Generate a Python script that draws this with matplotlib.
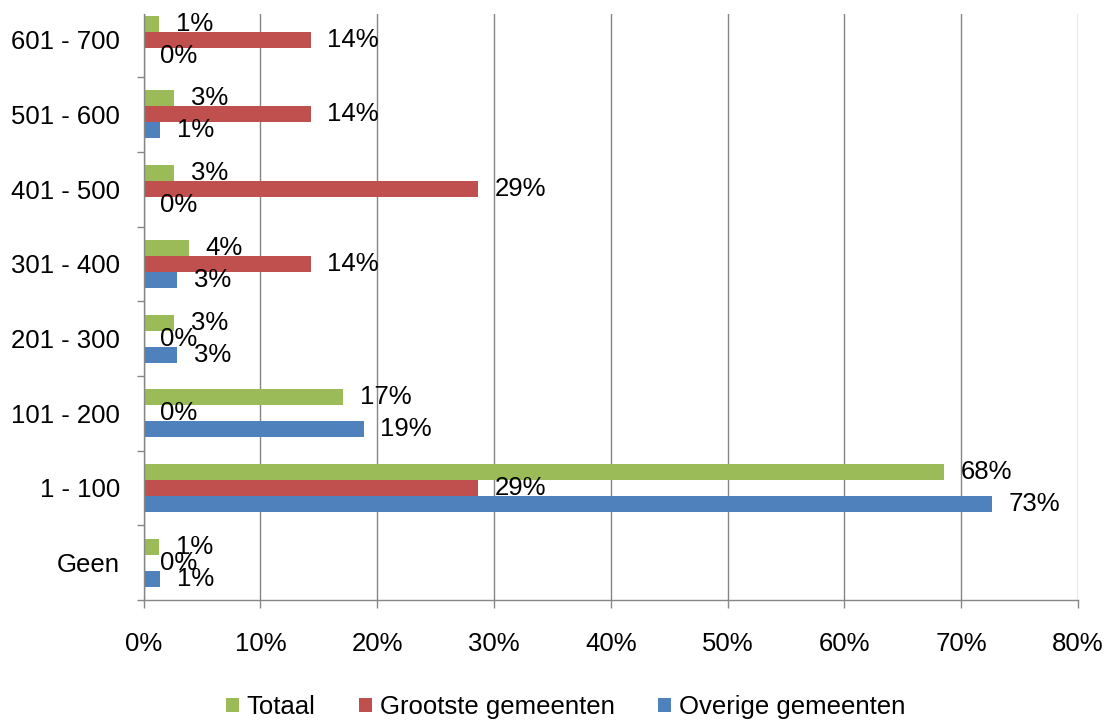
import numpy as np
import matplotlib
matplotlib.use('Agg')
import matplotlib.pyplot as plt
from matplotlib.patches import Patch

categories = ['Geen', '1 - 100', '101 - 200', '201 - 300', '301 - 400', '401 - 500', '501 - 600', '601 - 700']
totaal = [1.35, 68.5, 17.1, 2.6, 3.9, 2.6, 2.6, 1.35]
grootste = [0.0, 28.6, 0.0, 0.0, 14.3, 28.6, 14.3, 14.3]
overige = [1.45, 72.6, 18.85, 2.9, 2.9, 0.0, 1.45, 0.0]
series_names = ['Totaal', 'Grootste gemeenten', 'Overige gemeenten']
colors = ['#9BBB59', '#C0504D', '#4F81BD']
x_ticks = [0, 10, 20, 30, 40, 50, 60, 70, 80]

plt.rcParams['font.family'] = ['Liberation Sans', 'DejaVu Sans']
fs = 18.5

fig = plt.figure(figsize=(11.1, 7.22), dpi=100)
# plot area: x 143.5..1078 px, y 14..600 px
ax = fig.add_axes([0.1293, 0.169, 0.9712 - 0.1293, 0.9806 - 0.169])

y = np.arange(len(categories))
h = 0.214
offsets = [h, 0, -h]
for vals, off, col in zip([totaal, grootste, overige], offsets, colors):
    ax.barh(y + off, vals, height=h, color=col, zorder=3)
    for yi, v in zip(y, vals):
        ax.annotate(f'{v:.0f}%', (v, yi + off), xytext=(12, 0), textcoords='offset points',
                    ha='left', va='center', fontsize=fs, color='black', zorder=4)

ax.set_xlim(0, 80)
ax.set_ylim(-0.5, 7.345)
ax.set_xticks(x_ticks)
ax.set_xticklabels([f'{t}%' for t in x_ticks], fontsize=fs)
ax.set_yticks(y)
ax.set_yticklabels(categories, fontsize=fs)
ax.set_yticks(np.arange(-0.5, 7.0, 1.0), minor=True)
ax.tick_params(axis='y', which='major', length=0, pad=17)
ax.tick_params(axis='y', which='minor', length=5, color='#868686', width=1)
ax.tick_params(axis='x', length=6, color='#868686', width=1, pad=17)

ax.grid(axis='x', color='#868686', linewidth=1, zorder=0)
for s in ['top', 'right']:
    ax.spines[s].set_visible(False)
for s in ['left', 'bottom']:
    ax.spines[s].set_color('#868686')
    ax.spines[s].set_linewidth(1)
    ax.spines[s].set_zorder(5)

handles = [Patch(facecolor=c, edgecolor='none') for c in colors]
fig.legend(handles, series_names, loc='center', bbox_to_anchor=(0.5095, 0.0208), ncol=3,
           frameon=False, fontsize=fs, handlelength=0.5, handleheight=0.5,
           handletextpad=0.3, columnspacing=1.7)

fig.savefig('out.png', dpi=100)
